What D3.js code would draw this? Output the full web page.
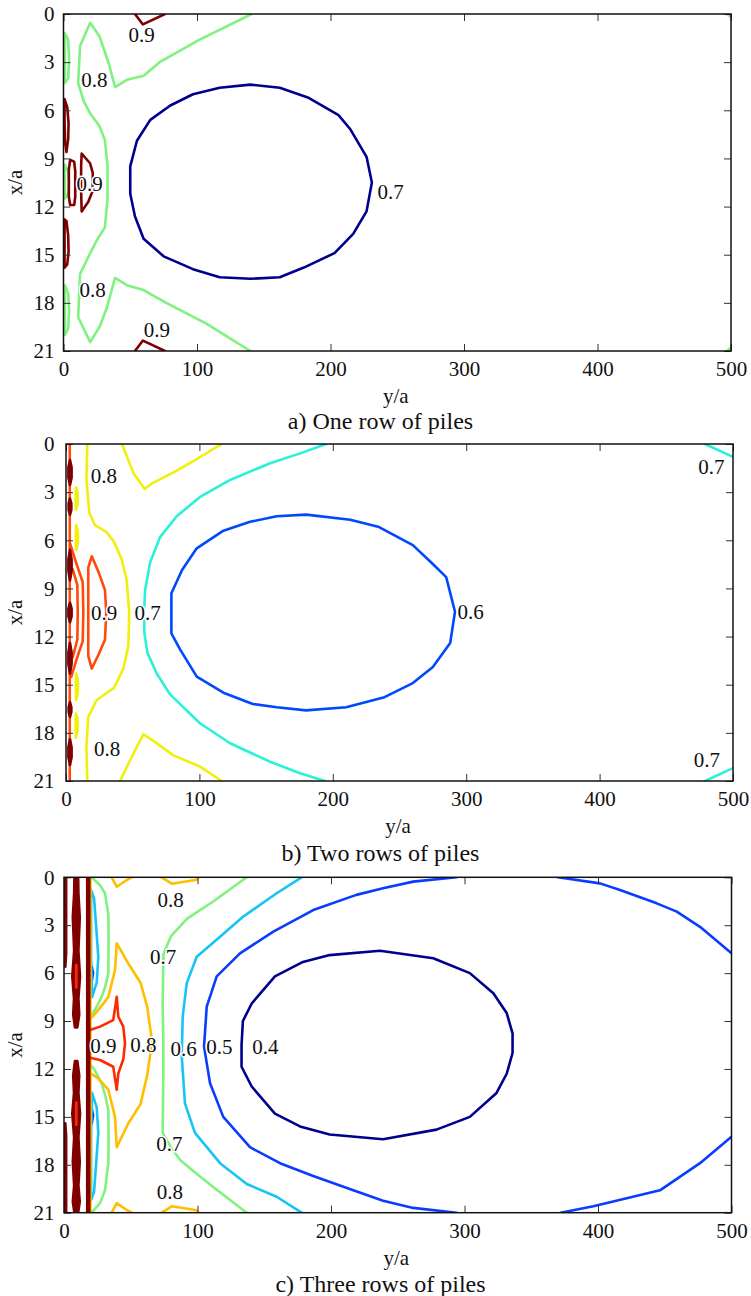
<!DOCTYPE html>
<html>
<head>
<meta charset="utf-8">
<script src="https://cdn.jsdelivr.net/npm/d3@7"></script>
</head>
<body style="margin:0">
<svg id="chart" width="751" height="1296" style="display:block;background:#fff"></svg>
<script>
// Axis ticks (y/a along the horizontal, x/a down the vertical)
const yaTicks = [0, 100, 200, 300, 400, 500];
const xaTicks = [0, 3, 6, 9, 12, 15, 18, 21];
const panelTitles = ["a) One row of piles", "b) Two rows of piles", "c) Three rows of piles"];

// Contour levels and their colours, one set per case
const rowOneLevels = [0.7, 0.8, 0.9];
const rowOneColors = ["#00008f", "#7ff27f", "#800000"];
const rowTwoLevels = [0.6, 0.7, 0.8, 0.9, 1.0];
const rowTwoColors = ["#0048ff", "#2af2d8", "#f0f00c", "#ff4a0a", "#800000"];
const rowThreeLevels = [0.4, 0.5, 0.6, 0.7, 0.8, 0.9, 1.0];
const rowThreeColors = ["#00008f", "#0a3cff", "#18c3f5", "#7ff27f", "#ffbf00", "#ff2a00", "#800000"];

// Contour polylines: points are [y/a, x/a]
const rowOneLines = [
  { level: 0.7, closed: true, pts: [[50,10.5],[50,9.5],[55,7.9],[65,6.6],[80,5.7],[97,5.0],[117,4.6],[140,4.4],[162,4.6],[183,5.2],[206,6.3],[215,7.2],[227,8.9],[231,10.5],[227,12.3],[217,13.7],[203,14.9],[180,15.8],[162,16.4],[140,16.5],[117,16.4],[97,15.9],[75,15.1],[60,14.0],[53.5,12.6],[50,11.2]] },
  { level: 0.8, closed: false, pts: [[141,0],[102,1.6],[72,3.0],[60,3.85],[47.5,4.1],[38.6,4.55],[34,3.1],[27,1.4],[20,0.55],[12.4,2.0],[11,4.3],[15,5.4],[20,6.2],[27,7.0],[31,7.85],[33,9.5],[33,10.5],[33,11.5],[31,13.3],[25,14.1],[20,14.9],[12.4,16.2],[11,18.9],[20,20.45],[27,19.5],[32.5,18.3],[38.6,16.45],[47.5,16.9],[60,17.2],[77,18.0],[107,19.3],[140,21]] },
  { level: 0.8, closed: true, pts: [[1,1.2],[3.5,1.6],[4.2,2.8],[3.5,4.0],[1,4.3]] },
  { level: 0.8, closed: true, pts: [[1,9.4],[3.5,9.8],[4.2,10.5],[3.5,11.2],[1,11.5]] },
  { level: 0.8, closed: true, pts: [[1,16.9],[3.5,17.4],[4.2,18.5],[3.5,19.6],[1,20.0]] },
  { level: 0.8, closed: false, pts: [[497,0],[500,0.2]] },
  { level: 0.8, closed: false, pts: [[497,21],[500,20.8]] },
  { level: 0.9, closed: false, pts: [[53.5,0],[59.5,0.65],[76,0]] },
  { level: 0.9, closed: false, pts: [[53.5,21],[59.5,20.35],[76,21]] },
  { level: 0.9, closed: true, pts: [[0.8,5.3],[2.8,5.8],[3.8,6.8],[3.5,7.8],[2.2,8.6],[1.2,8.0],[0.8,6.8]] },
  { level: 0.9, closed: true, pts: [[0.8,12.8],[2.2,12.9],[3.5,13.8],[3.8,14.8],[2.8,15.6],[0.8,15.8]] },
  { level: 0.9, closed: true, pts: [[5,9.1],[8,9.2],[8.8,9.8],[8.8,11.4],[8,11.9],[5,11.9],[4,11.4],[4,9.7]] },
  { level: 0.9, closed: true, pts: [[13.6,8.7],[19.9,9.3],[21.9,9.9],[21.9,11.0],[18.6,11.7],[13.6,12.3],[13.2,11],[13.2,9.5]] }
];
const rowOneLabels = [
  [58.6, 1.3, "0.9"], [23.2, 4.1, "0.8"], [19.6, 10.6, "0.9"],
  [245, 11.1, "0.7"], [21.9, 17.2, "0.8"], [70, 19.7, "0.9"]
];

const rowTwoLines = [
  { level: 0.6, closed: true, pts: [[79,9.3],[87,7.85],[98,6.5],[118,5.4],[138,4.85],[158,4.5],[180,4.4],[213,4.72],[234,5.15],[260,6.3],[274,7.4],[285,8.3],[291.6,10.45],[288,12.4],[275,13.9],[260,14.9],[238,15.8],[210,16.4],[180,16.6],[158,16.4],[140,16.2],[118,15.5],[98,14.5],[85.5,12.8],[79,11.8]] },
  { level: 0.7, closed: false, pts: [[195,0],[175,0.6],[153,1.2],[123,2.24],[100.5,3.3],[83,4.5],[70.5,5.8],[63,7.4],[59.3,9.1],[58.5,10.5],[58.8,11.8],[61,13],[68,14.3],[78,15.6],[100.4,17.4],[123,18.65],[153,19.8],[175,20.5],[194,21]] },
  { level: 0.7, closed: false, pts: [[479,0],[500,0.8]] },
  { level: 0.7, closed: false, pts: [[479,21],[500,20.2]] },
  { level: 0.8, closed: false, pts: [[42,0],[50.5,1.8],[59,2.8],[64.5,2.45],[81.7,1.72],[96.7,1.0],[116.7,0]] },
  { level: 0.8, closed: false, pts: [[16,0],[15.3,2.2],[17.5,4.3],[21.7,5.05],[30.5,5.5],[36,6.1],[41.8,7.2],[45.5,8.5],[47.4,10.5],[46.7,12.6],[43,14.0],[36,15.2],[23,15.95],[16.7,17],[15.3,18.9],[16,21]] },
  { level: 0.8, closed: false, pts: [[40.5,21],[50.5,19.3],[58,18.1],[65.5,18.5],[80.5,19.4],[100.5,20.1],[116.7,21]] },
  { level: 0.8, closed: true, pts: [[7.4,2.7],[8.6,3.0],[8.8,3.4],[8.6,3.8],[7.4,4.1],[7.2,3.4]] },
  { level: 0.8, closed: true, pts: [[7.6,5.05],[8.8,5.4],[9.0,5.8],[8.8,6.2],[7.6,6.6],[7.4,5.8]] },
  { level: 0.8, closed: true, pts: [[7.6,14.3],[8.8,14.7],[9.0,15.1],[8.8,15.5],[7.6,15.95],[7.4,15.1]] },
  { level: 0.8, closed: true, pts: [[7.4,16.8],[8.6,17.1],[8.8,17.5],[8.6,17.9],[7.4,18.3],[7.2,17.5]] },
  { level: 0.9, closed: false, pts: [[2.8,0],[2.8,21]] },
  { level: 0.9, closed: false, pts: [[3,6.2],[8,7.5],[12.5,8.6],[13,10.5],[12.5,12.3],[8,13.4],[4,14.5]] },
  { level: 0.9, closed: false, pts: [[5,7.8],[8.5,8.8],[8.8,10.5],[8.5,12.2],[5,13.3]] },
  { level: 0.9, closed: true, pts: [[19.3,7.0],[24.5,8.0],[29.2,9.1],[30.2,10.5],[29.2,12.2],[24.5,13.1],[19.3,14.0],[16.7,13.2],[16.7,7.7]] },
  { level: 1.0, closed: true, pts: [[3,1.0],[4.2,1.45],[4.2,2.1],[3,2.55],[1.8,2.1],[1.8,1.45]] },
  { level: 1.0, closed: true, pts: [[3,3.4],[4.0,3.7],[4.0,4.1],[3,4.4],[2.0,4.1],[2.0,3.7]] },
  { level: 1.0, closed: true, pts: [[3,6.6],[4.2,7.2],[4.2,7.9],[3,8.5],[1.8,7.9],[1.8,7.2]] },
  { level: 1.0, closed: true, pts: [[3,9.9],[4.2,10.25],[4.2,10.75],[3,11.1],[1.8,10.75],[1.8,10.25]] },
  { level: 1.0, closed: true, pts: [[3,12.4],[4.2,13.0],[4.2,13.7],[3,14.3],[1.8,13.7],[1.8,13.0]] },
  { level: 1.0, closed: true, pts: [[3,16.1],[4.0,16.4],[4.0,16.7],[3,17.0],[2.0,16.7],[2.0,16.4]] },
  { level: 1.0, closed: true, pts: [[3,18.4],[4.2,18.9],[4.2,19.5],[3,20.0],[1.8,19.5],[1.8,18.9]] }
];
const rowTwoLabels = [
  [28.4, 1.96, "0.8"], [28.6, 10.5, "0.9"], [61.2, 10.5, "0.7"], [30.9, 19.0, "0.8"],
  [303.4, 10.43, "0.6"], [483.7, 1.42, "0.7"], [480.5, 19.69, "0.7"]
];

const rowThreeLines = [
  { level: 0.4, closed: true, pts: [[133,10.5],[134,9],[140.6,7.9],[158,6.2],[179,5.3],[199,4.87],[236.7,4.6],[276.6,5.07],[304,6.0],[321.6,7.26],[331.6,8.5],[336,9.77],[336,11.0],[331.6,12.3],[324,13.5],[304,15.0],[279,15.8],[239,16.4],[199,16.1],[176.8,15.6],[158,14.8],[140.6,13.1],[133,11.86]] },
  { level: 0.5, closed: false, pts: [[294,0],[261.6,0.27],[239,0.69],[219,1.1],[186.7,2.05],[156.8,3.4],[131.8,4.76],[114.4,6.2],[106.9,8.1],[104.9,10.6],[109.4,12.9],[119.3,15.0],[139.3,16.9],[161.8,17.9],[186.7,18.7],[216.7,19.6],[239,20.25],[261.6,20.7],[294,21]] },
  { level: 0.5, closed: false, pts: [[370,0],[401.5,0.38],[416.5,0.8],[444,1.63],[459,2.15],[476.4,3.1],[500,4.76]] },
  { level: 0.5, closed: false, pts: [[500,16.24],[476.4,17.9],[446.4,19.6],[421.5,20.1],[396.5,20.6],[372,21]] },
  { level: 0.5, closed: true, pts: [[20.8,5.6],[21.8,6.0],[20.8,6.5]] },
  { level: 0.5, closed: true, pts: [[20.8,14.5],[21.8,14.9],[20.8,15.4]] },
  { level: 0.6, closed: false, pts: [[178,0],[159.3,1.0],[134.3,2.46],[116.9,3.72],[99.4,4.97],[91.9,6.64],[88.9,8.73],[88.2,11.2],[90.6,14.15],[98.1,16.0],[116.9,17.9],[136.9,19.2],[159.3,20.0],[178,21]] },
  { level: 0.6, closed: true, pts: [[20.3,0.8],[22.5,1.3],[24,3.0],[25.7,5.0],[24.5,6.6],[21,7.5],[20.3,5]] },
  { level: 0.6, closed: true, pts: [[20.3,20.2],[22.5,19.7],[24,18.0],[25.7,16.0],[24.5,14.4],[21,13.5],[20.3,16]] },
  { level: 0.7, closed: false, pts: [[136.8,0],[112,1.5],[92,2.6],[80,3.7],[74.5,4.8],[73.9,8.1],[74.4,10.2],[74.4,12.27],[73.9,16.0],[80,16.9],[87,17.7],[97,18.4],[112,19.4],[136.8,21]] },
  { level: 0.7, closed: false, pts: [[20.7,0],[27,0.5],[30.7,1.0],[33.2,2.3],[33.4,4.0],[33.2,6.0],[31,6.8],[28.2,7.5],[23.2,8.3],[19.8,8.7]] },
  { level: 0.7, closed: false, pts: [[19.8,11.7],[23.2,12.1],[28.2,12.9],[31,13.7],[33.2,14.6],[33.4,16.5],[33.2,17.9],[30.7,19.6],[27,20.4],[20.7,21]] },
  { level: 0.8, closed: false, pts: [[35.7,0],[39.5,0.59],[47,0.17],[50.7,0]] },
  { level: 0.8, closed: false, pts: [[73.2,0],[80.7,0.4],[99.4,0.15],[100.5,0]] },
  { level: 0.8, closed: false, pts: [[35.7,21],[39.5,20.4],[47,20.83],[50.7,21]] },
  { level: 0.8, closed: false, pts: [[73.2,21],[80.7,20.6],[99.4,20.85],[100.5,21]] },
  { level: 0.8, closed: false, pts: [[19.5,8.9],[25.7,8.3],[33.2,7.5],[38.2,5.8],[39.5,4.13],[48.2,5.4],[57.3,6.6],[62.3,8.1],[66,10.3],[62.3,12.4],[57.3,14.2],[48.2,15.4],[39.5,16.9],[38.2,15.0],[33.2,13.3],[25.7,12.6],[19.5,12.25]] },
  { level: 0.8, closed: false, pts: [[19.8,0],[19.8,21]] },
  { level: 0.9, closed: false, pts: [[19.5,9.56],[27,9.35],[36.9,8.94],[39.5,7.48],[40.7,8.73],[44.4,9.35],[45.7,10.4],[44.4,11.4],[40.7,12.27],[39.5,13.3],[36.9,11.86],[27,11.44],[19.5,11.3]] },
  { level: 1.0, closed: true, pts: [[0.4,0],[1.6,0],[1.6,4.8],[1.0,5.6],[0.4,4.8]] },
  { level: 1.0, closed: true, pts: [[0.4,21],[1.6,21],[1.6,16.2],[1.0,15.4],[0.4,16.2]] },
  { level: 1.0, closed: true, pts: [[7.8,0],[10.6,0],[10.8,1.0],[11.8,2.5],[10.8,4.6],[12.0,6.2],[10.8,7.6],[11.4,8.6],[10,9.4],[8.2,9.4],[6.9,8.6],[7.5,7.6],[6.2,6.2],[7.6,4.6],[6.6,2.5],[7.6,1.0]] },
  { level: 1.0, closed: true, pts: [[8.2,11.5],[10,11.5],[11.4,12.4],[10.8,13.5],[12.0,14.8],[10.8,16.3],[11.8,17.8],[10.8,19.3],[11.8,20.3],[10.6,21],[7.8,21],[6.6,20.3],[7.6,19.3],[6.6,17.8],[7.6,16.3],[6.2,14.8],[7.5,13.5],[6.9,12.4]] },
  { level: 1.0, closed: true, pts: [[17.4,0],[18.9,0],[18.9,21],[17.4,21]] },
  { level: 0.9, closed: false, pts: [[9.2,5.5],[9.2,6.9]] },
  { level: 0.9, closed: false, pts: [[9.2,14.1],[9.2,15.5]] }
];
const rowThreeLabels = [
  [79.9, 1.4, "0.8"], [74.2, 4.97, "0.7"], [29.5, 10.55, "0.9"], [59.4, 10.45, "0.8"],
  [89.6, 10.7, "0.6"], [116.3, 10.6, "0.5"], [150.9, 10.6, "0.4"],
  [78.9, 16.66, "0.7"], [79.4, 19.7, "0.8"]
];

// Panel frames on the page
const frames = [
  { left: 63.5, top: 14, right: 731, bottom: 351, titleY: 429, axisLabelY: 403 },
  { left: 66, top: 444, right: 733, bottom: 781, titleY: 860.5, axisLabelY: 832.5 },
  { left: 64, top: 877.3, right: 731.5, bottom: 1212.7, titleY: 1292, axisLabelY: 1265 }
];

const panels = [
  { lines: rowOneLines, labels: rowOneLabels, color: d3.scaleOrdinal(rowOneLevels, rowOneColors) },
  { lines: rowTwoLines, labels: rowTwoLabels, color: d3.scaleOrdinal(rowTwoLevels, rowTwoColors) },
  { lines: rowThreeLines, labels: rowThreeLabels, color: d3.scaleOrdinal(rowThreeLevels, rowThreeColors) }
];

const svg = d3.select("#chart");
const tickLen = 7;

// serif face applied as inline style on every text element
const serif = (sel, size) => sel
  .attr("font-family", "'Liberation Serif', monospace")
  .style("font-family", "'Liberation Serif', monospace")
  .style("font-size", size + "px")
  .attr("fill", "#111");

panels.forEach((p, i) => {
  const f = frames[i];
  const xs = d3.scaleLinear().domain([0, 500]).range([f.left, f.right]);
  const ys = d3.scaleLinear().domain([0, 21]).range([f.top, f.bottom]);
  const g = svg.append("g");

  const clipId = "clip" + i;
  g.append("clipPath").attr("id", clipId)
    .append("rect")
    .attr("x", f.left).attr("y", f.top)
    .attr("width", f.right - f.left).attr("height", f.bottom - f.top);

  // contour lines
  const open = d3.line().x(d => xs(d[0])).y(d => ys(d[1]));
  const closed = d3.line().x(d => xs(d[0])).y(d => ys(d[1])).curve(d3.curveLinearClosed);
  const lines = g.append("g").attr("clip-path", `url(#${clipId})`);
  lines.selectAll("path")
    .data(p.lines)
    .join("path")
    .attr("d", d => (d.closed ? closed : open)(d.pts))
    .attr("fill", d => (d.closed && d.level >= 1.0) ? p.color(d.level) : "none")
    .attr("stroke", d => p.color(d.level))
    .attr("stroke-width", 2.6)
    .attr("stroke-linejoin", "round")
    .attr("stroke-linecap", "round");

  // contour labels
  g.append("g").selectAll("text")
    .data(p.labels)
    .join("text")
    .attr("x", d => xs(d[0]))
    .attr("y", d => ys(d[1]))
    .attr("dy", "0.35em")
    .attr("text-anchor", "middle")
    .call(serif, 21)
    .attr("stroke", "#fff")
    .attr("stroke-width", 3)
    .attr("paint-order", "stroke")
    .text(d => d[2]);

  // axes with inward ticks on all four sides
  const styleAxis = sel => {
    sel.attr("font-family", null).attr("font-size", null);
    sel.select(".domain").remove();
    sel.selectAll(".tick line").attr("stroke", "#333").attr("stroke-width", 1);
    sel.selectAll(".tick text").call(serif, 21);
  };
  g.append("g").attr("transform", `translate(0,${f.bottom})`)
    .call(d3.axisBottom(xs).tickValues(yaTicks).tickSize(-tickLen).tickPadding(10).tickFormat(d3.format("d")))
    .call(styleAxis);
  g.append("g").attr("transform", `translate(0,${f.top})`)
    .call(d3.axisTop(xs).tickValues(yaTicks).tickSize(-tickLen).tickFormat(""))
    .call(styleAxis);
  g.append("g").attr("transform", `translate(${f.left},0)`)
    .call(d3.axisLeft(ys).tickValues(xaTicks).tickSize(-tickLen).tickPadding(f.left - 54.5).tickFormat(d3.format("d")))
    .call(styleAxis);
  g.append("g").attr("transform", `translate(${f.right},0)`)
    .call(d3.axisRight(ys).tickValues(xaTicks).tickSize(-tickLen).tickFormat(""))
    .call(styleAxis);

  // frame
  g.append("rect")
    .attr("x", f.left).attr("y", f.top)
    .attr("width", f.right - f.left).attr("height", f.bottom - f.top)
    .attr("fill", "none").attr("stroke", "#111").attr("stroke-width", 1.5);

  // axis titles
  g.append("text")
    .attr("x", (f.left + f.right) / 2 - 1.5).attr("y", f.axisLabelY)
    .attr("text-anchor", "middle")
    .call(serif, 21)
    .text("y/a");
  g.append("text")
    .attr("transform", `translate(21.5,${(f.top + f.bottom) / 2}) rotate(-90)`)
    .attr("text-anchor", "middle")
    .call(serif, 21)
    .text("x/a");

  // panel caption
  g.append("text")
    .attr("x", 380.5).attr("y", f.titleY)
    .attr("text-anchor", "middle")
    .call(serif, 24)
    .text(panelTitles[i]);
});
</script>
</body>
</html>
